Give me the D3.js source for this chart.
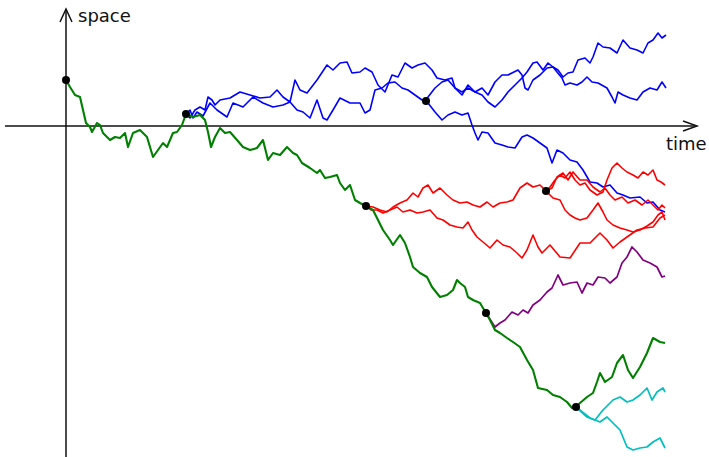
<!DOCTYPE html>
<html>
<head>
<meta charset="utf-8">
<script src="https://cdn.jsdelivr.net/npm/d3@7"></script>
<style>
  html, body { margin: 0; padding: 0; background: #fff; }
  svg { display: block; }
  text { font-family: "DejaVu Sans", sans-serif; font-size: 18px; fill: #111; }
</style>
</head>
<body>
<svg id="chart" width="709" height="457"></svg>
<script>
// Branching Brownian motion: each path is a list of [time, space] samples.
// Time runs 0..600, space is measured from the horizontal axis (up = positive).

const greenTrunk = [
  [0,46],[4,39],[9,31],[14,29],[17,16],[20,3],[24,-1],[26,-6],[31,3],[34,1],[37,-7],[44,-14],
  [49,-11],[54,-12],[59,-7],[62,-21],[67,-7],[74,-4],[81,-11],[87,-31],[92,-24],[97,-17],
  [101,-21],[107,-7],[111,-6],[116,1],[120,12],
  [121,12],[127,9],[134,11],[139,6],[142,-6],[145,-21],[149,-11],[154,-2],[159,-7],[164,-6],
  [171,-14],[177,-21],[184,-24],[191,-22],[197,-14],[202,-34],[207,-27],[214,-29],[221,-21],
  [227,-27],[231,-29],[236,-37],[244,-42],[251,-47],[254,-44],[259,-52],[264,-51],[271,-49],
  [274,-57],[279,-64],[284,-59],[289,-74],[294,-77],[300,-80],
  [307,-84],[312,-94],[317,-104],[324,-114],[327,-119],[334,-109],[339,-117],[344,-131],
  [347,-141],[354,-147],[361,-151],[366,-161],[374,-171],[381,-169],[387,-164],[391,-154],
  [394,-157],[399,-161],[402,-171],[407,-174],[414,-177],[420,-187],
  [424,-194],[429,-204],[434,-207],[441,-212],[447,-216],[454,-221],[461,-234],[467,-244],
  [472,-262],[481,-264],[487,-269],[494,-271],[501,-276],[506,-282],[510,-281],
  [514,-277],[521,-271],[527,-267],[531,-256],[534,-247],[539,-256],[546,-251],[551,-237],
  [557,-229],[562,-244],[567,-252],[574,-241],[581,-227],[587,-212],[594,-216],[599,-217]
];

const blueUpper = [
  [120,12],[124,8],[129,16],[134,19],[139,16],[142,29],[146,26],[149,21],[154,26],[164,28],
  [174,34],[184,31],[194,28],[204,29],[211,36],[217,29],[224,24],[229,46],[234,36],[241,33],
  [251,46],[261,61],[267,56],[274,63],[281,64],[286,53],[294,54],[299,58],[306,54],[312,41],
  [319,34],[326,51],[332,49],[339,63],[346,58],[352,61],[359,63],[366,56],[371,48],[379,46],
  [386,48],[389,38],[396,31],[402,41],[409,34],[416,38],[422,31],[429,44],[436,51],[442,51],
  [452,56],[456,51],[459,38],[462,36],[467,46],[474,51],[481,58],[487,59],[492,56],[497,49],
  [502,53],[507,54],[512,66],[519,68],[524,63],[527,69],[532,83],[537,79],[544,78],[551,73],
  [557,86],[564,78],[571,76],[577,73],[582,83],[587,86],[592,93],[596,88],[600,91]
];

const blueLower = [
  [120,12],[124,16],[127,8],[131,14],[137,10],[144,23],[151,16],[161,9],[167,23],[177,19],
  [187,29],[197,23],[207,19],[217,21],[224,24],[231,16],[237,14],[244,8],[251,26],[257,8],
  [261,6],[267,16],[274,28],[284,23],[294,23],[299,13],[304,16],[309,36],[316,38],[322,43],
  [329,44],[336,38],[342,36],[349,31],[356,26],[360,25]
];

const blueFalling = [
  [360,25],[362,23],[369,14],[376,6],[382,11],[389,14],[396,11],[402,13],[406,1],[409,-7],
  [412,-14],[416,-6],[422,-7],[429,-17],[436,-19],[442,-21],[449,-22],[456,-11],[461,-9],
  [467,-12],[474,-17],[481,-22],[486,-37],[491,-24],[497,-27],[504,-34],[511,-36],[517,-44],
  [524,-56],[531,-57],[537,-61],[544,-59],[551,-67],[557,-69],[564,-72],[574,-71],[581,-77],
  [587,-76],[594,-84],[599,-86]
];

const blueRising = [
  [360,25],[362,29],[369,38],[376,44],[382,46],[389,38],[396,34],[402,38],[409,34],[416,31],
  [422,24],[429,19],[436,26],[442,34],[449,41],[456,48],[461,54],[467,63],[471,64],[477,56],
  [482,63],[487,59],[491,54],[496,48],[499,41],[504,43],[511,41],[516,44],[521,49],[526,44],
  [532,43],[541,38],[546,29],[549,23],[552,34],[557,31],[564,28],[571,26],[577,34],[584,38],
  [591,36],[596,44],[600,38]
];

const redUpper = [
  [300,-80],[307,-81],[314,-84],[321,-86],[327,-81],[334,-77],[341,-74],[347,-67],[352,-71],
  [357,-62],[362,-59],[367,-67],[374,-62],[381,-69],[387,-74],[394,-77],[401,-76],[407,-79],
  [414,-81],[421,-76],[427,-81],[434,-77],[441,-76],[447,-74],[454,-62],[461,-57],[467,-61],
  [474,-59],[480,-65]
];

const redLower = [
  [300,-80],[305,-84],[311,-84],[317,-87],[324,-84],[331,-81],[337,-86],[344,-84],[351,-87],
  [357,-86],[364,-84],[371,-92],[377,-94],[384,-99],[391,-101],[397,-102],[402,-96],[406,-104],
  [411,-111],[417,-116],[424,-122],[431,-114],[437,-119],[444,-121],[451,-127],[456,-132],
  [461,-124],[467,-109],[472,-121],[476,-127],[484,-119],[494,-131],[504,-132],[514,-117],
  [524,-117],[534,-107],[541,-114],[547,-122],[554,-116],[561,-111],[571,-104],[579,-102],
  [587,-101],[594,-92],[599,-89]
];

const redTop = [
  [480,-65],[484,-61],[489,-54],[494,-49],[499,-52],[504,-46],[509,-54],[514,-59],[519,-57],
  [524,-64],[531,-69],[537,-66],[541,-54],[546,-42],[551,-37],[556,-42],[561,-46],[567,-49],
  [572,-52],[577,-46],[582,-49],[587,-44],[591,-54],[595,-56],[599,-59]
];

const redMiddle = [
  [480,-65],[486,-62],[491,-51],[497,-47],[502,-54],[507,-46],[514,-54],[521,-54],[527,-61],
  [534,-66],[539,-62],[544,-69],[549,-74],[556,-71],[562,-77],[569,-74],[576,-79],[582,-74],
  [587,-79],[592,-84],[596,-79],[599,-82]
];

const redBottom = [
  [480,-65],[487,-72],[494,-74],[499,-84],[504,-89],[509,-92],[514,-94],[521,-92],[527,-84],
  [532,-77],[537,-86],[541,-94],[547,-99],[554,-102],[561,-104],[567,-106],[574,-104],
  [581,-100],[587,-96],[592,-89],[596,-86],[599,-94]
];

const purplePath = [
  [420,-187],[429,-201],[434,-197],[439,-194],[446,-186],[452,-189],[457,-184],[462,-187],
  [467,-179],[474,-174],[481,-166],[486,-162],[492,-149],[497,-159],[504,-157],[511,-156],
  [516,-167],[521,-157],[527,-159],[532,-151],[539,-152],[544,-157],[551,-151],[556,-137],
  [561,-131],[566,-121],[571,-126],[577,-134],[584,-137],[591,-141],[596,-151],[599,-150]
];

const cyanUpper = [
  [510,-281],[521,-291],[529,-294],[537,-284],[547,-274],[554,-271],[561,-276],[567,-274],
  [574,-269],[581,-262],[586,-274],[591,-266],[597,-262],[599,-266]
];

const cyanLower = [
  [510,-281],[524,-292],[534,-296],[541,-291],[547,-297],[554,-304],[561,-321],[567,-324],
  [574,-322],[581,-321],[587,-316],[594,-312],[599,-322]
];

const axisLabels = { time: "time", space: "space" };

// Paths in drawing order, with their colours and stroke widths.
const particles = [
  { pts: blueUpper,   color: "#0000ff", w: 1.6 },
  { pts: blueLower,   color: "#0000ff", w: 1.6 },
  { pts: blueRising,  color: "#0000ff", w: 1.6 },
  { pts: blueFalling, color: "#0000ff", w: 1.6 },
  { pts: redUpper,    color: "#ff0000", w: 1.6 },
  { pts: redLower,    color: "#ff0000", w: 1.6 },
  { pts: redTop,      color: "#ff0000", w: 1.6 },
  { pts: redMiddle,   color: "#ff0000", w: 1.6 },
  { pts: redBottom,   color: "#ff0000", w: 1.6 },
  { pts: purplePath,  color: "#800080", w: 1.7 },
  { pts: cyanUpper,   color: "#00bfbf", w: 1.7 },
  { pts: cyanLower,   color: "#00bfbf", w: 1.7 },
  { pts: greenTrunk,  color: "#008000", w: 2.1 }
];

const svg = d3.select("#chart");
const x = d3.scaleLinear().domain([0, 600]).range([66, 666]);
const y = d3.scaleLinear().domain([0, -331]).range([126, 457]);

// Axes with open arrowheads
const axisG = svg.append("g").attr("stroke", "#111").attr("stroke-width", 1.5).attr("fill", "none");
const x0 = x(0), y0 = y(0);
axisG.append("line").attr("x1", 5).attr("x2", 697).attr("y1", y0).attr("y2", y0);
axisG.append("path").attr("d", `M${683},${y0 - 5}L${697},${y0}L${683},${y0 + 5}`);
axisG.append("line").attr("x1", x0).attr("x2", x0).attr("y1", 457).attr("y2", 9);
axisG.append("path").attr("d", `M${x0 - 6},${22}L${x0},${9}L${x0 + 6},${22}`);

svg.append("text").attr("x", x0 + 12).attr("y", 22).text(axisLabels.space);
svg.append("text").attr("x", 666).attr("y", y0 + 24).text(axisLabels.time);

const line = d3.line().x(d => x(d[0])).y(d => y(d[1]));

svg.append("g").selectAll("path")
  .data(particles)
  .join("path")
  .attr("d", d => line(d.pts))
  .attr("fill", "none")
  .attr("stroke", d => d.color)
  .attr("stroke-width", d => d.w)
  .attr("stroke-linejoin", "round");

// Birth and branching events: the start of every path
const seen = new Set();
const events = [];
particles.forEach(p => {
  const k = p.pts[0].join(",");
  if (!seen.has(k)) { seen.add(k); events.push(p.pts[0]); }
});

svg.append("g").selectAll("circle")
  .data(events)
  .join("circle")
  .attr("cx", d => x(d[0]))
  .attr("cy", d => y(d[1]))
  .attr("r", 4)
  .attr("fill", "#000");
</script>
</body>
</html>
